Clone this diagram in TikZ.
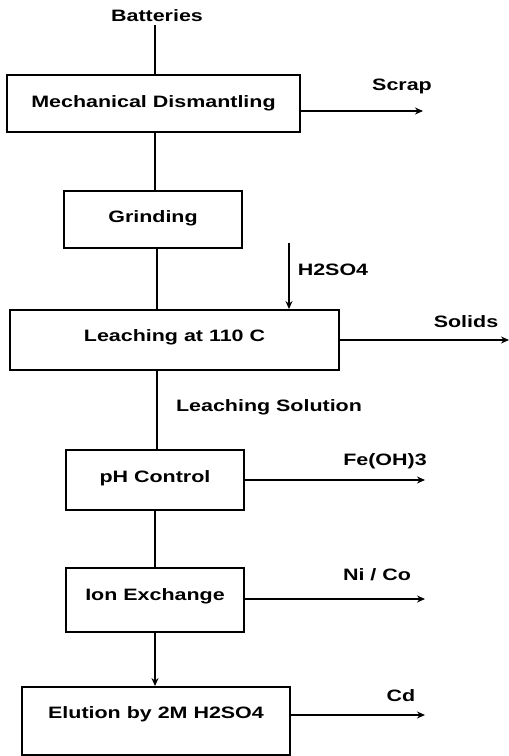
\documentclass[tikz,border=0pt]{standalone}
\usepackage{fontspec}
\setmainfont{Liberation Sans}[FakeStretch=1.3]
\usetikzlibrary{arrows.meta}
\begin{document}
\begin{tikzpicture}[x=1pt,y=-1pt,line cap=butt,line join=miter,>={Stealth[length=8pt,width=7pt]}]
\tikzset{txt/.style={font=\bfseries\fontsize{16.5}{19}\selectfont,inner sep=0pt},
proc/.style={txt,draw,line width=1.9pt},
flow/.style={line width=1.7pt}
}
\useasboundingbox (0,0) rectangle (509,756);
% boxes
\node[proc,minimum width=293pt,minimum height=57pt] (dism) at (153.5,103.5) {Mechanical Dismantling};
\node[proc,minimum width=178pt,minimum height=57pt,text depth=6pt] (grind) at (153,219.5) {Grinding};
\node[proc,minimum width=329pt,minimum height=60pt,text depth=9pt] (leach) at (174.5,340) {Leaching at 110 C};
\node[proc,minimum width=178pt,minimum height=60pt,text depth=7pt] (ph) at (155,480) {pH Control};
\node[proc,minimum width=178pt,minimum height=64pt,text depth=11pt] (ion) at (155,600) {Ion Exchange};
\node[proc,minimum width=268pt,minimum height=68pt,text depth=16pt] (elu) at (156,721) {Elution by 2M H2SO4};
% labels
\node[txt] (batt) at (157,16) {Batteries};
\node[txt] (scrap) at (402,86) {Scrap};
\node[txt] (acidlbl) at (333,270) {H2SO4};
\node[txt] (solids) at (466,322) {Solids};
\node[txt] (sol) at (269,407) {Leaching Solution};
\node[txt] (fe) at (385,461) {Fe(OH)3};
\node[txt] (nico) at (377,575) {Ni / Co};
\node[txt] (cd) at (401,696) {Cd};
\coordinate (acid) at (289,243);
\coordinate (scrapend) at (423,111);
\coordinate (solidsend) at (509,340);
\coordinate (feend) at (425,480);
\coordinate (nicoend) at (425,599);
\coordinate (cdend) at (425,715);
% connectors
\draw[flow] (155,25)--(155,75);
\draw[flow] (155,132)--(155,191);
\draw[flow] (157,248)--(157,310);
\draw[flow] (157,370)--(157,450);
\draw[flow] (ph.south)--(ion.north);
\draw[flow,->] (ion.south)--(ion.south|-elu.north);
\draw[flow,->] (acid)--(acid|-leach.north);
\draw[flow,->] (dism.east|-scrapend)--(scrapend);
\draw[flow,->] (leach.east)--(solidsend);
\draw[flow,->] (ph.east)--(feend);
\draw[flow,->] (ion.east|-nicoend)--(nicoend);
\draw[flow,->] (elu.east|-cdend)--(cdend);
\end{tikzpicture}
\end{document}
